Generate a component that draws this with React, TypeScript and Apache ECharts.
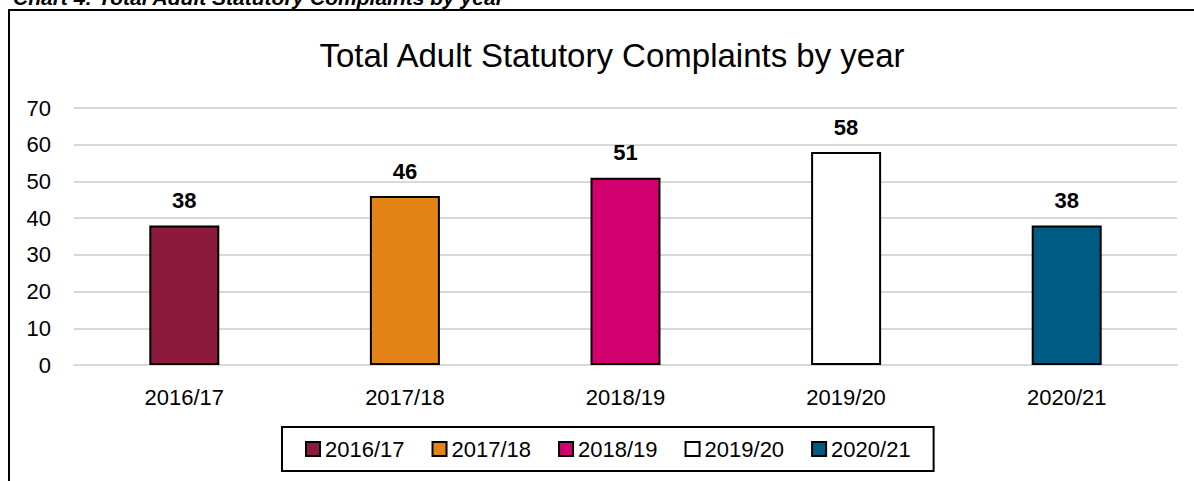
import React, { useEffect, useRef } from "react";
import * as echarts from "echarts";

const categories = ["2016/17", "2017/18", "2018/19", "2019/20", "2020/21"];
const values = [38, 46, 51, 58, 38];
const colors = ["#8B1A3C", "#E58416", "#D2006F", "#FFFFFF", "#005B82"];
const yTicks = { min: 0, max: 70, interval: 10 };
const chartTitle = "Total Adult Statutory Complaints by year";
const heading = "Chart 4: Total Adult Statutory Complaints by year";

const FONT = "'Liberation Sans', Arial, sans-serif";

export default function App() {
  const ref = useRef<HTMLDivElement>(null);
  useEffect(() => {
    if (!ref.current) return;
    const chart = echarts.init(ref.current, undefined, { renderer: "svg" });
    const series = categories.map((c, i) => ({
      name: c,
      type: "bar",
      stack: "total",
      barWidth: 70,
      data: categories.map((_, j) => (j === i ? values[i] : "-")),
      itemStyle: { color: colors[i], borderColor: "#000", borderWidth: 2 },
      label: {
        show: true,
        position: "top",
        distance: 14,
        fontFamily: FONT,
        fontSize: 22,
        fontWeight: "bold",
        color: "#000",
      },
    }));
    chart.setOption({
      animation: false,
      backgroundColor: "#fff",
      textStyle: { fontFamily: FONT },
      title: {
        text: chartTitle,
        left: 607,
        textAlign: "center",
        top: 34,
        textStyle: { fontFamily: FONT, fontSize: 33, fontWeight: "normal", color: "#000" },
      },
      graphic: [
        {
          type: "rect",
          shape: { x: 9, y: 10, width: 1300, height: 600 },
          style: { fill: "none", stroke: "#000", lineWidth: 2 },
          z: 10,
        },
        {
          type: "text",
          x: 13,
          y: 8,
          style: {
            text: heading,
            fontFamily: FONT,
            fontSize: 21,
            fontWeight: "bold",
            fontStyle: "italic",
            fill: "#000",
            verticalAlign: "bottom",
          },
        },
      ],
      legend: {
        data: categories,
        left: 282,
        top: 427,
        padding: [11, 23],
        borderColor: "#000",
        borderWidth: 2,
        itemWidth: 14,
        itemHeight: 14,
        itemGap: 27,
        icon: "rect",
        textStyle: { fontFamily: FONT, fontSize: 22, color: "#000" },
      },
      grid: { left: 74, right: 17, top: 108, bottom: 116 },
      xAxis: {
        type: "category",
        data: categories,
        axisTick: { show: false },
        axisLine: { show: true, lineStyle: { color: "#d9d9d9", width: 2 } },
        axisLabel: { fontFamily: FONT, fontSize: 22, color: "#000", margin: 21 },
      },
      yAxis: {
        type: "value",
        min: yTicks.min,
        max: yTicks.max,
        interval: yTicks.interval,
        axisLine: { show: false },
        axisTick: { show: false },
        splitLine: { lineStyle: { color: "#d9d9d9", width: 2 } },
        axisLabel: { fontFamily: FONT, fontSize: 22, color: "#000", margin: 23 },
      },
      series,
    });
    return () => chart.dispose();
  }, []);
  return (
    <div
      ref={ref}
      style={{ position: "absolute", left: 0, top: 0, width: 1194, height: 481 }}
    />
  );
}
